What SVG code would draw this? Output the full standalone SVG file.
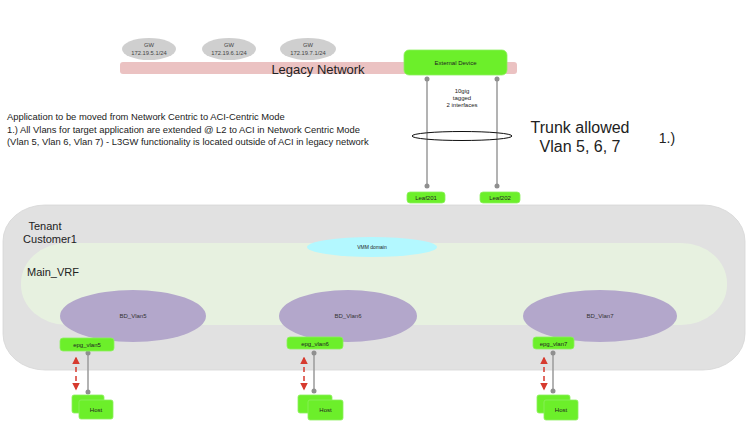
<svg xmlns="http://www.w3.org/2000/svg" width="748" height="444" viewBox="0 0 748 444">
<style>
text{font-family:"Liberation Sans",Arial,sans-serif;fill:#222}
.gw{fill:#cfcfcf}
.gwt{font-size:5.8px;text-anchor:middle;fill:#444}
.node{fill:#6cef2a;stroke:#8ef060;stroke-width:0.8}
.nt{font-size:6px;text-anchor:middle;fill:#222}
.bd{fill:#b3a7cb}
.bdt{font-size:6px;text-anchor:middle;fill:#333}
.conn{stroke:#9a9a9a;stroke-width:1.5;fill:none}
.dot{fill:#8f8f8f}
.red{stroke:#d63a2e;stroke-width:1.5;stroke-dasharray:5 4;fill:none;marker-start:url(#ah);marker-end:url(#ah)}
.big{font-size:11px}
.desc{font-size:9.4px}
</style>
<defs>
<marker id="ah" viewBox="0 0 10 10" refX="8" refY="5" markerWidth="5" markerHeight="5" orient="auto-start-reverse" markerUnits="strokeWidth">
<path d="M0,0 L10,5 L0,10 z" fill="#d63a2e"/>
</marker>
</defs>
<rect width="748" height="444" fill="#ffffff"/>

<g id="legacy-network">
<rect x="120" y="62" width="397" height="12" rx="3" fill="#ebc2c2"/>
<text x="318" y="74" font-size="13" text-anchor="middle">Legacy Network</text>
</g>
<g id="gw5"><ellipse class="gw" cx="149" cy="49" rx="27" ry="11"/><text class="gwt" x="149" y="47">GW</text><text class="gwt" x="149" y="55">172.19.5.1/24</text></g>
<g id="gw6"><ellipse class="gw" cx="229" cy="49" rx="27" ry="11"/><text class="gwt" x="229" y="47">GW</text><text class="gwt" x="229" y="55">172.19.6.1/24</text></g>
<g id="gw7"><ellipse class="gw" cx="308" cy="49" rx="28" ry="11"/><text class="gwt" x="308" y="47">GW</text><text class="gwt" x="308" y="55">172.19.7.1/24</text></g>

<g id="external-device"><rect class="node" x="404" y="50" width="103" height="25" rx="5"/><text class="nt" x="455.5" y="65">External Device</text></g>

<g id="text-block">
<text class="desc" x="7" y="120">Application to be moved from Network Centric to ACI-Centric Mode</text>
<text class="desc" x="7" y="132.5">1.) All Vlans for target application are extended @ L2 to ACI in Network Centric Mode</text>
<text class="desc" x="7" y="145">(Vlan 5, Vlan 6, Vlan 7) - L3GW functionality is located outside of ACI in legacy network</text>
</g>
<g id="trunk-label">
<text x="580" y="133" font-size="16" text-anchor="middle">Trunk allowed</text>
<text x="580" y="152" font-size="16" text-anchor="middle">Vlan 5, 6, 7</text>
<text x="667" y="143" font-size="14" text-anchor="middle">1.)</text>
</g>

<g id="tenant">
<rect x="3" y="205" width="742" height="165" rx="42" ry="36" fill="#e1e1e1" stroke="#d6d6d6" stroke-width="0.8"/>
<text class="big" x="45" y="230" text-anchor="middle">Tenant</text>
<text class="big" x="50" y="243" text-anchor="middle">Customer1</text>
</g>
<g id="main-vrf">
<rect x="21" y="243" width="706" height="82" rx="46" ry="40" fill="#e7f1e0"/>
<text class="big" x="27" y="276">Main_VRF</text>
</g>
<g id="vmm-domain"><ellipse cx="372" cy="247" rx="65" ry="10" fill="#b3f8ff"/><text x="372" y="249" font-size="5" text-anchor="middle" fill="#333">VMM domain</text></g>

<g id="bd-vlan5"><ellipse class="bd" cx="133" cy="316" rx="73" ry="26"/><text class="bdt" x="133" y="318">BD_Vlan5</text></g>
<g id="bd-vlan6"><ellipse class="bd" cx="348" cy="316" rx="69" ry="26"/><text class="bdt" x="348" y="318">BD_Vlan6</text></g>
<g id="bd-vlan7"><ellipse class="bd" cx="600" cy="316" rx="77" ry="26"/><text class="bdt" x="600" y="318">BD_Vlan7</text></g>

<g id="connectors">
<line class="conn" x1="427" y1="80" x2="427" y2="186"/>
<line class="conn" x1="497" y1="80" x2="497" y2="186"/>
<ellipse cx="462" cy="136" rx="50" ry="4.5" fill="none" stroke="#111" stroke-width="1"/>
<line class="conn" x1="88" y1="353" x2="88" y2="392"/>
<line class="conn" x1="314" y1="353" x2="314" y2="391"/>
<line class="conn" x1="553" y1="353" x2="553" y2="391"/>
<circle class="dot" cx="427" cy="79" r="2.5"/><circle class="dot" cx="497" cy="79" r="2.5"/>
<circle class="dot" cx="427" cy="186" r="2.5"/><circle class="dot" cx="497" cy="186" r="2.5"/>
<circle class="dot" cx="88" cy="353" r="2.5"/><circle class="dot" cx="88" cy="392" r="2.5"/>
<circle class="dot" cx="314" cy="353" r="2.5"/><circle class="dot" cx="314" cy="391" r="2.5"/>
<circle class="dot" cx="553" cy="353" r="2.5"/><circle class="dot" cx="553" cy="391" r="2.5"/>
<line class="red" x1="76" y1="358" x2="76" y2="389"/>
<line class="red" x1="304" y1="358" x2="304" y2="389"/>
<line class="red" x1="544" y1="358" x2="544" y2="389"/>
<text x="462" y="93" font-size="6" text-anchor="middle">10gig</text>
<text x="462" y="100" font-size="6" text-anchor="middle">tagged</text>
<text x="462" y="107" font-size="6" text-anchor="middle">2 interfaces</text>
</g>

<g id="leaf201"><rect class="node" x="407" y="192" width="38" height="11" rx="3"/><text class="nt" x="426" y="199.5">Leaf201</text></g>
<g id="leaf202"><rect class="node" x="480" y="192" width="40" height="11" rx="3"/><text class="nt" x="500" y="199.5">Leaf202</text></g>

<g id="epg-vlan5"><rect class="node" x="60" y="338" width="54" height="13" rx="3"/><text class="nt" x="87" y="346.5">epg_vlan5</text></g>
<g id="epg-vlan6"><rect class="node" x="287" y="337" width="56" height="12" rx="3"/><text class="nt" x="315" y="345.5">epg_vlan6</text></g>
<g id="epg-vlan7"><rect class="node" x="533" y="337" width="41" height="12" rx="3"/><text class="nt" x="553.5" y="345.5">epg_vlan7</text></g>

<g id="host5"><rect class="node" x="72" y="395" width="32" height="18" rx="2"/><rect class="node" x="79" y="400" width="34" height="19" rx="2"/><text class="nt" x="96" y="411.5">Host</text></g>
<g id="host6"><rect class="node" x="298" y="395" width="34" height="18" rx="2"/><rect class="node" x="308" y="400" width="35" height="20" rx="2"/><text class="nt" x="325.5" y="412">Host</text></g>
<g id="host7"><rect class="node" x="537" y="395" width="33" height="18" rx="2"/><rect class="node" x="544" y="400" width="34" height="20" rx="2"/><text class="nt" x="561" y="412">Host</text></g>
</svg>
